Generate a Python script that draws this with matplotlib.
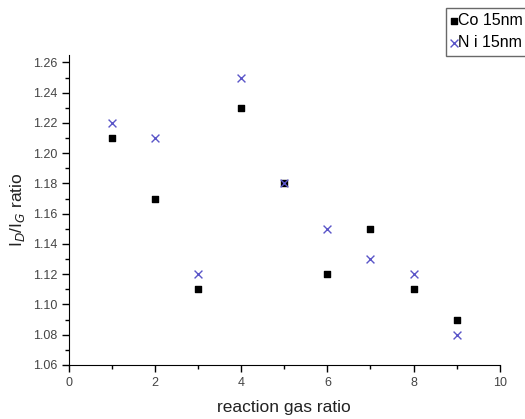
import matplotlib.pyplot as plt
from matplotlib.ticker import MultipleLocator, FormatStrFormatter

plt.rcParams['font.family'] = ['Liberation Sans', 'DejaVu Sans']

gas_ratio = [1, 2, 3, 4, 5, 6, 7, 8, 9]
co_15nm = [1.21, 1.17, 1.11, 1.23, 1.18, 1.12, 1.15, 1.11, 1.09]
ni_15nm = [1.22, 1.21, 1.12, 1.25, 1.18, 1.15, 1.13, 1.12, 1.08]

fig = plt.figure(figsize=(5.25, 4.19), dpi=100)
ax = fig.add_axes([0.131, 0.129, 0.821, 0.74])

ax.scatter(gas_ratio, co_15nm, marker='s', s=24, color='black', label='Co 15nm', zorder=3)
ax.scatter(gas_ratio, ni_15nm, marker='x', s=32, color='#5a55c8', linewidths=1.0, label='N i 15nm', zorder=4)

ax.set_xlim(0, 10)
ax.set_ylim(1.06, 1.265)
ax.xaxis.set_major_locator(MultipleLocator(2))
ax.xaxis.set_minor_locator(MultipleLocator(1))
ax.yaxis.set_major_locator(MultipleLocator(0.02))
ax.yaxis.set_minor_locator(MultipleLocator(0.01))
ax.yaxis.set_major_formatter(FormatStrFormatter('%.2f'))
ax.spines['top'].set_visible(False)
ax.spines['right'].set_visible(False)
ax.tick_params(which='major', direction='out', length=5, width=1, labelsize=9, labelcolor='#444444')
ax.tick_params(which='minor', direction='out', length=3, width=1)

ax.set_xlabel('reaction gas ratio', fontsize=12.5, color='#222222', labelpad=8)
ax.set_ylabel(r'I$_D$/I$_G$ ratio', fontsize=12.5, color='#222222')

fig.legend(loc='upper left', bbox_to_anchor=(0.849, 0.982), fontsize=11.5, frameon=True,
           fancybox=False, edgecolor='#444444', handlelength=0.3, handletextpad=0.1,
           borderpad=0.35, labelspacing=0.45, borderaxespad=0, scatterpoints=1)

fig.savefig('out.png', dpi=100)
